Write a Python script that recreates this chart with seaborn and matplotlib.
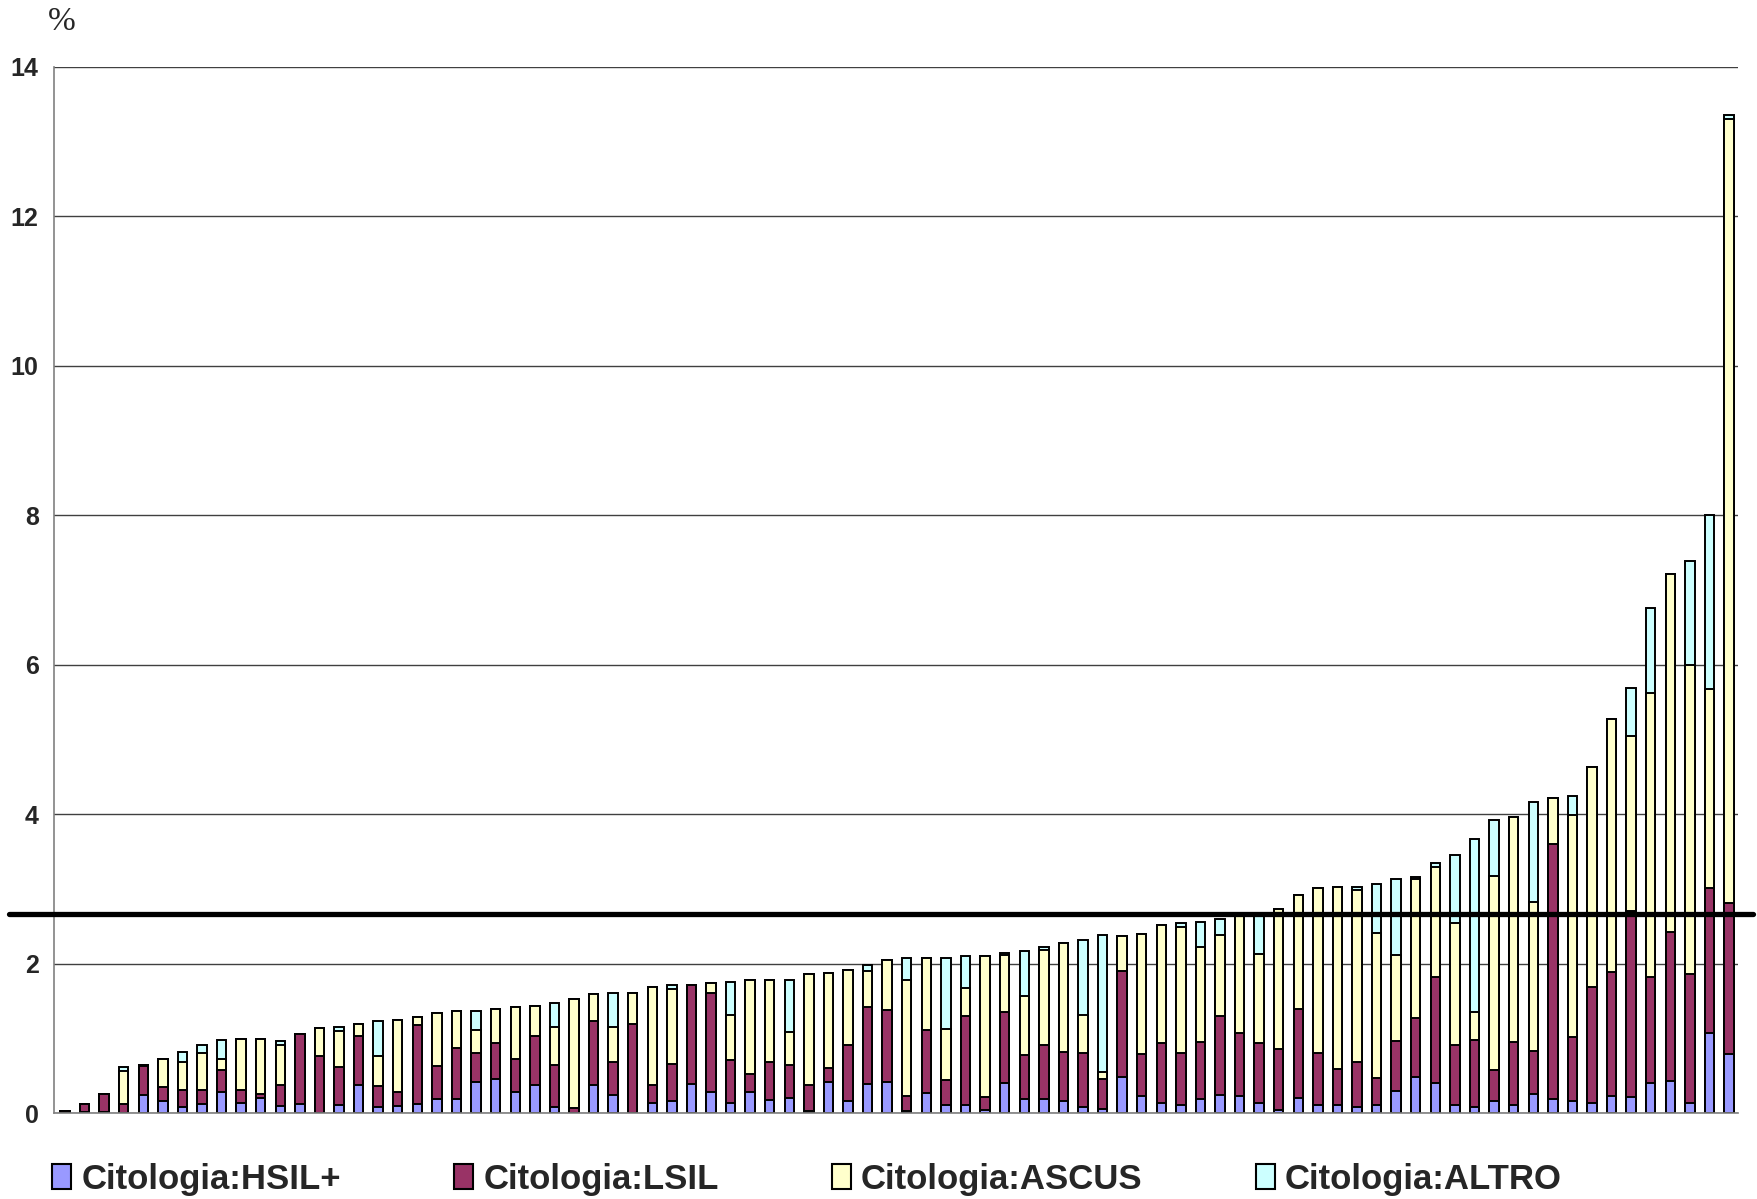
import numpy as np
import pandas as pd
import matplotlib
matplotlib.use("Agg")
import matplotlib.pyplot as plt
import matplotlib.transforms as mtransforms
from matplotlib.patches import Patch
import seaborn as sns

# values per bar (percent)
hsil = [0, 0.02, 0.02, 0, 0.24, 0.165, 0.09, 0.12, 0.28, 0.14,
        0.21, 0.10, 0.13, 0.01, 0.11, 0.38, 0.09, 0.10, 0.12, 0.19,
        0.19, 0.42, 0.455, 0.28, 0.38, 0.09, 0, 0.38, 0.24, 0,
        0.14, 0.165, 0.39, 0.28, 0.14, 0.28, 0.18, 0.21, 0.035, 0.42,
        0.165, 0.39, 0.42, 0.035, 0.27, 0.11, 0.11, 0.045, 0.41, 0.19,
        0.19, 0.165, 0.09, 0.06, 0.48, 0.23, 0.14, 0.11, 0.19, 0.25,
        0.23, 0.14, 0.045, 0.20, 0.11, 0.11, 0.09, 0.11, 0.30, 0.49,
        0.41, 0.11, 0.09, 0.17, 0.115, 0.26, 0.185, 0.17, 0.14, 0.23,
        0.215, 0.41, 0.435, 0.14, 1.08, 0.79]
lsil = [0.03, 0.10, 0.24, 0.12, 0.39, 0.19, 0.22, 0.19, 0.30, 0.17,
        0.05, 0.28, 0.93, 0.76, 0.51, 0.66, 0.27, 0.18, 1.06, 0.44,
        0.68, 0.39, 0.48, 0.44, 0.66, 0.56, 0.07, 0.85, 0.44, 1.20,
        0.245, 0.50, 1.33, 1.335, 0.57, 0.245, 0.51, 0.44, 0.35, 0.18,
        0.75, 1.03, 0.96, 0.20, 0.84, 0.34, 1.19, 0.17, 0.94, 0.585,
        0.73, 0.65, 0.72, 0.40, 1.43, 0.56, 0.795, 0.70, 0.77, 1.05,
        0.85, 0.80, 0.82, 1.19, 0.70, 0.48, 0.60, 0.36, 0.67, 0.78,
        1.42, 0.80, 0.89, 0.41, 0.835, 0.575, 3.42, 0.845, 1.55, 1.665,
        2.49, 1.42, 1.99, 1.73, 1.93, 2.03]
ascus = [0, 0, 0, 0.45, 0.02, 0.37, 0.38, 0.50, 0.15, 0.68,
         0.73, 0.54, 0, 0.37, 0.48, 0.15, 0.41, 0.97, 0.11, 0.71,
         0.50, 0.30, 0.46, 0.70, 0.39, 0.51, 1.455, 0.37, 0.48, 0.41,
         1.31, 1.00, 0, 0.13, 0.61, 1.26, 1.09, 0.44, 1.48, 1.28,
         1.00, 0.49, 0.67, 1.55, 0.97, 0.68, 0.37, 1.89, 0.77, 0.80,
         1.26, 1.46, 0.51, 0.09, 0.46, 1.61, 1.585, 1.68, 1.26, 1.09,
         1.575, 1.19, 1.875, 1.53, 2.20, 2.435, 2.30, 1.94, 1.15, 1.86,
         1.47, 1.64, 0.37, 2.60, 3.02, 1.99, 0.61, 2.98, 2.94, 3.375,
         2.34, 3.80, 4.79, 4.13, 2.67, 10.48]
altro = [0, 0, 0, 0.055, 0, 0, 0.13, 0.11, 0.245, 0,
         0, 0.05, 0, 0, 0.05, 0, 0.47, 0, 0, 0,
         0, 0.26, 0, 0, 0, 0.32, 0, 0, 0.455, 0,
         0, 0.05, 0, 0, 0.44, 0, 0, 0.70, 0, 0,
         0, 0.075, 0, 0.29, 0, 0.95, 0.44, 0, 0.03, 0.60,
         0.05, 0, 1.00, 1.83, 0, 0, 0, 0.05, 0.34, 0.21,
         0, 0.53, 0, 0, 0, 0, 0.035, 0.66, 1.02, 0.035,
         0.055, 0.91, 2.32, 0.74, 0, 1.345, 0, 0.25, 0, 0,
         0.64, 1.13, 0, 1.39, 2.32, 0.06]
threshold = 2.67

labels = ["Citologia:HSIL+", "Citologia:LSIL", "Citologia:ASCUS", "Citologia:ALTRO"]
colors = ["#9999FF", "#993366", "#FFFFCC", "#CCFFFF"]

df = pd.DataFrame({"bar": np.arange(len(hsil)), "HSIL": hsil, "LSIL": lsil,
                   "ASCUS": ascus, "ALTRO": altro})
df["c1"] = df["HSIL"]
df["c2"] = df["c1"] + df["LSIL"]
df["c3"] = df["c2"] + df["ASCUS"]
df["c4"] = df["c3"] + df["ALTRO"]

sns.set_style("white")
plt.rcParams["font.family"] = ["Liberation Sans", "DejaVu Sans"]

fig = plt.figure(figsize=(17.58, 11.99), dpi=100)
ax = fig.add_axes([54 / 1758, 1 - 1113.3 / 1199, 1684 / 1758, (1113.3 - 67) / 1199])

# stacked bars: draw cumulative totals from the top layer down
for col, c in zip(["c4", "c3", "c2", "c1"], colors[::-1]):
    sns.barplot(data=df, x="bar", y=col, color=c, saturation=1, width=0.48,
                edgecolor="black", linewidth=1.4, errorbar=None, ax=ax)

ax.set_xlim(-0.56, len(hsil) - 1 + 0.46)
ax.set_ylim(0, 14)
ax.set_yticks(np.arange(0, 15, 2))
ax.set_xticks([])
ax.set_xlabel("")
ax.set_ylabel("")
ax.yaxis.grid(True, color="#404040", linewidth=1.0)
ax.set_axisbelow(True)
for s in ["top", "right"]:
    ax.spines[s].set_visible(False)
for s in ["left", "bottom"]:
    ax.spines[s].set_color("#808080")
    ax.spines[s].set_linewidth(1.2)
ax.tick_params(axis="y", direction="out", length=8, color="#808080", width=1,
               labelsize=18, pad=3)
for t in ax.get_yticklabels():
    t.set_fontweight("bold")

# reference line
trans = mtransforms.blended_transform_factory(ax.transAxes, ax.transData)
ax.plot([-0.027, 1.009], [threshold, threshold], color="black", lw=3.8,
        transform=trans, clip_on=False, zorder=5)

fig.text(0.035, 0.982, "%", family="Liberation Serif", fontsize=24,
         ha="center", va="center")

handles = [Patch(facecolor=c, edgecolor="black", linewidth=1.5) for c in colors]
fig.legend(handles, labels, loc="center left",
           bbox_to_anchor=(52 / 1758, 1 - 1179 / 1199), ncol=4, frameon=False,
           prop={"weight": "bold", "size": 25}, handlelength=0.55,
           handleheight=0.7, handletextpad=0.3, columnspacing=3.25,
           borderaxespad=0, borderpad=0)

fig.savefig("out.png", dpi=100)
